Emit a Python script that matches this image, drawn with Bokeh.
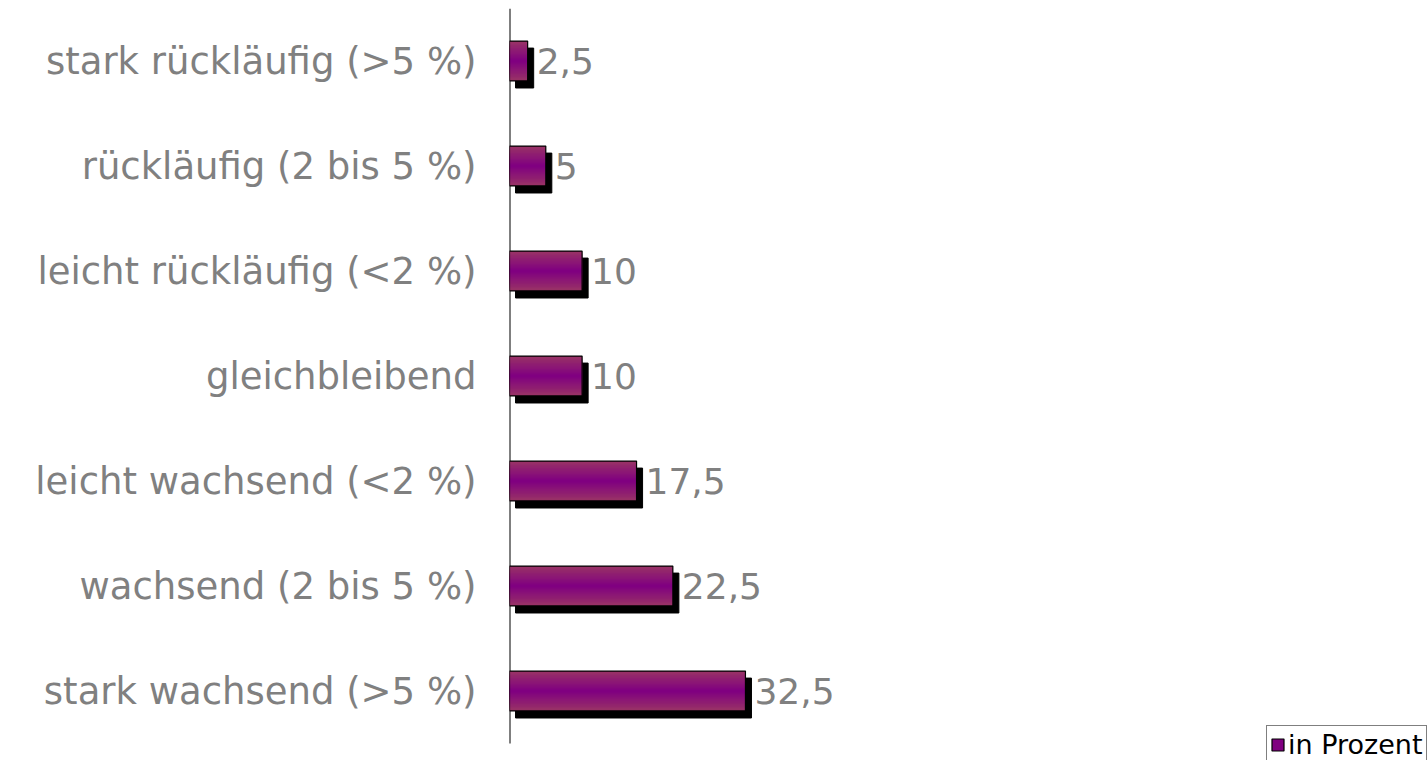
from bokeh.plotting import figure
from bokeh.models import Range1d, FixedTicker, Legend, LegendItem, ColumnDataSource
from bokeh.embed import file_html
from bokeh.resources import INLINE
from bokeh.core.properties import value

categories = [
    "stark rückläufig (>5 %)",
    "rückläufig (2 bis 5 %)",
    "leicht rückläufig (<2 %)",
    "gleichbleibend",
    "leicht wachsend (<2 %)",
    "wachsend (2 bis 5 %)",
    "stark wachsend (>5 %)",
]
values = [2.5, 5, 10, 10, 17.5, 22.5, 32.5]
value_labels = ["2,5", "5", "10", "10", "17,5", "22,5", "32,5"]
series_name = "in Prozent"

positions = list(range(len(categories)))

FONT = "DejaVu Sans"
BAR_H = 0.38
SHADOW_DX = 0.83
SHADOW_DY = 0.067
W, H = 1428, 760
TOP, LEFT = 8, 509
ROW_PX = 105.0
PX_PER_UNIT = 7.26

n = len(categories)
p = figure(
    width=W, height=H,
    x_range=Range1d(0, (W - LEFT) / PX_PER_UNIT),
    y_range=Range1d(-0.5 + (H - TOP) / ROW_PX, -0.5),
    x_axis_type=None,
    output_backend="svg", toolbar_location=None,
    min_border_left=LEFT, min_border_right=0, min_border_top=TOP, min_border_bottom=0,
)
p.outline_line_color = None
p.ygrid.grid_line_color = None
p.background_fill_color = "white"
p.border_fill_color = "white"

yax = p.yaxis[0]
yax.ticker = FixedTicker(ticks=positions)
yax.major_label_overrides = {i: c for i, c in zip(positions, categories)}
yax.major_tick_in = 0
yax.major_tick_out = 0
yax.minor_tick_in = 0
yax.minor_tick_out = 0
yax.major_label_standoff = 33
yax.axis_line_color = None
yax.major_label_text_font = FONT
yax.major_label_text_font_size = "37px"
yax.major_label_text_color = "#808080"

# axis line spanning the category band only
p.segment(x0=[0], y0=[-0.5], x1=[0], y1=[n - 0.5], line_color="black", line_width=2)

src = ColumnDataSource(dict(
    y=positions,
    v=values,
    sy=[y + SHADOW_DY for y in positions],
    sl=[SHADOW_DX] * n,
    sr=[v + SHADOW_DX for v in values],
    lab=value_labels,
))
# shadow
p.hbar(y="sy", left="sl", right="sr", height=BAR_H, source=src,
       fill_color="black", line_color="black")

# gradient bars: edge #993366 -> centre #800080
edge = (153, 51, 102)
centre = (128, 0, 128)
N = 14
layers = []
for k in range(N):
    t = k / (N - 1)
    c = tuple(int(round(edge[i] + (centre[i] - edge[i]) * t)) for i in range(3))
    h = BAR_H * (1 - k / N)
    layers.append(p.hbar(y="y", left=0, right="v", height=h, source=src,
                         fill_color="#%02x%02x%02x" % c, line_color=None))

outline = p.hbar(y="y", left=0, right="v", height=BAR_H, source=src,
                 fill_color=None, line_color="black", line_width=1.2)

p.text(x="v", y="y", text="lab", source=src, x_offset=9,
       text_align="left", text_baseline="middle",
       text_font=value(FONT), text_font_size="36px", text_color="#808080")

legend = Legend(
    items=[LegendItem(label=series_name, renderers=[layers[-1], outline])],
    location=(757, -4),
    label_text_font=FONT, label_text_font_size="27px", label_text_color="black",
    glyph_width=15, glyph_height=15,
    padding=3, margin=0, spacing=0, label_standoff=3,
    border_line_color="black", border_line_width=1,
    background_fill_color="white", background_fill_alpha=1,
)
p.add_layout(legend)

open("out.html", "w").write(file_html(p, INLINE))
